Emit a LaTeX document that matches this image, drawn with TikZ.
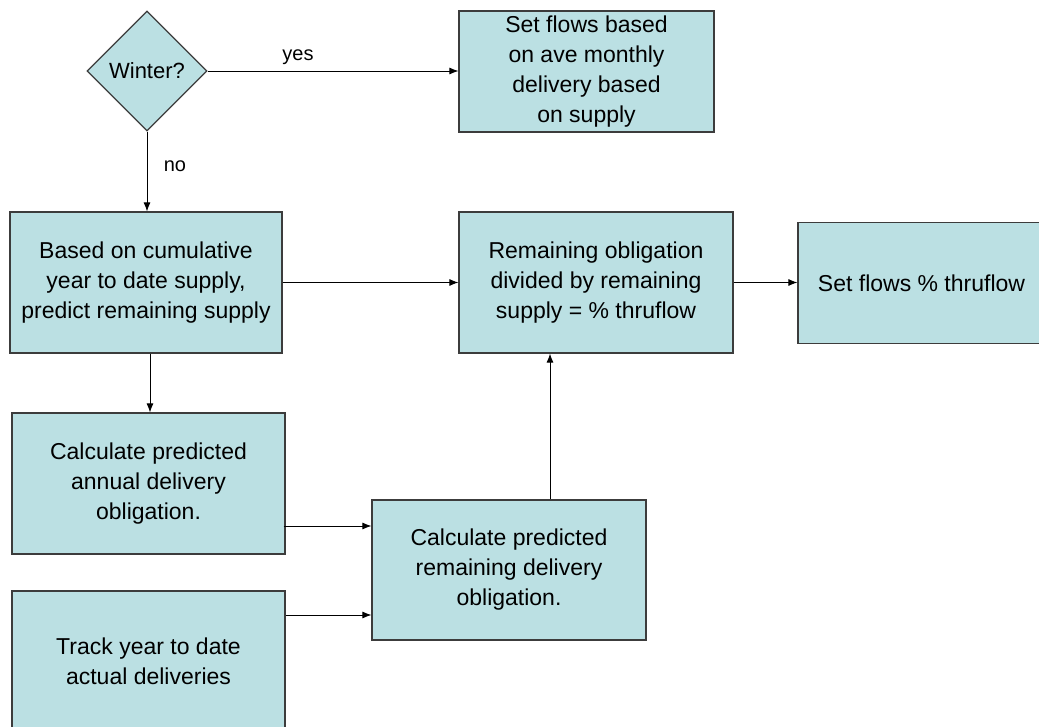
\documentclass[tikz,border=0pt]{standalone}
\usepackage{fontspec}
\setmainfont{Liberation Sans}
\usetikzlibrary{shapes.geometric, arrows.meta}
\definecolor{boxfill}{RGB}{187,224,227}
\definecolor{boxline}{RGB}{60,60,60}

\begin{document}
\begin{tikzpicture}[x=1pt, y=-1pt,
  box/.style={draw=boxline, line width=1.2pt, rectangle, fill=boxfill, align=center,
    inner sep=4pt, font=\fontsize{23}{30}\selectfont},
  decision/.style={draw=boxline, line width=1.2pt, diamond, fill=boxfill, aspect=1,
    minimum size=120pt, inner sep=0pt, font=\fontsize{22}{26}\selectfont},
  arrow/.style={-{Latex[length=9pt, width=7pt]}, line width=0.9pt},
  lbl/.style={font=\fontsize{20}{24}\selectfont}]
\clip (0,0) rectangle (1039,727);
% Boxes
\node[decision] (winter) at (147,71) {Winter?};
\node[box, minimum width=255pt, minimum height=121pt] (setave) at (586.5,71.5) {Set flows based\\on ave monthly\\delivery based\\on supply};
\node[box, minimum width=272pt, minimum height=141pt] (based) at (146,282.5) {Based on cumulative\\year to date supply,\\predict remaining supply};
\node[box, minimum width=274pt, minimum height=141pt] (oblig) at (596,282.5) {Remaining obligation\\divided by remaining\\supply = \% thruflow};
\node[box, minimum width=247pt, minimum height=121pt] (thru) at (921.5,283) {Set flows \% thruflow};
\node[box, minimum width=273pt, minimum height=141pt] (annual) at (148.5,483.5) {Calculate predicted\\annual delivery\\obligation.};
\node[box, minimum width=273pt, minimum height=140pt] (track) at (148.5,661) {Track year to date\\actual deliveries};
\node[box, minimum width=274pt, minimum height=140pt] (calcrem) at (509,570) {Calculate predicted\\remaining delivery\\obligation.};

% Arrows
\draw[arrow] (winter.east) -- (winter.east -| setave.west);
\draw[arrow] (winter.south) -- (winter.south |- based.north);
\draw[arrow] (based.east) -- (based.east -| oblig.west);
\draw[arrow] (oblig.east) -- (oblig.east -| thru.west);
\draw[arrow] ([xshift=4pt]based.south) -- ([xshift=4pt]based.south |- annual.north);
\draw[arrow] ([xshift=-2pt,yshift=-42.5pt]annual.east) -- ([yshift=-42.5pt]annual.east -| calcrem.west);
\draw[arrow] ([yshift=-45pt]calcrem.west -| track.east) -- ([yshift=-45pt]calcrem.west);
\draw[arrow] ([xshift=41pt]calcrem.north) -- ([xshift=41pt]calcrem.north |- oblig.south);

% Labels
\node[lbl] (yes) at (298,57) {yes};
\node[lbl] (no) at (175,166) {no};
\end{tikzpicture}
\end{document}
